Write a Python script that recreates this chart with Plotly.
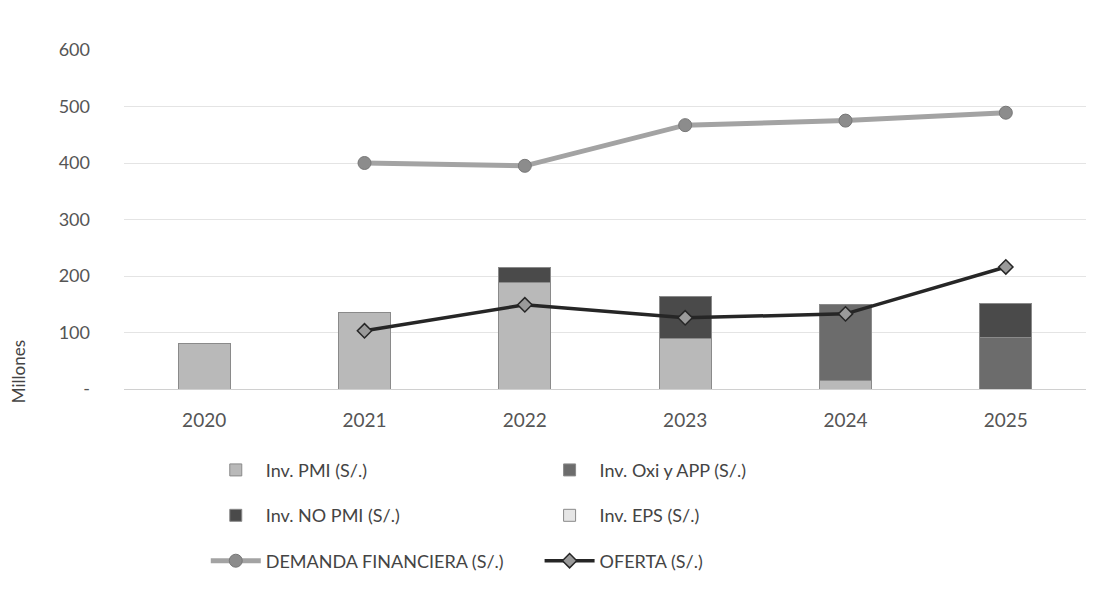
import plotly.graph_objects as go

years = ["2020", "2021", "2022", "2023", "2024", "2025"]
inv_pmi = [80, 135, 188, 90, 15, 0]
inv_oxi_app = [0, 0, 0, 0, 134, 92]
inv_no_pmi = [0, 0, 27, 73, 0, 60]
inv_eps = [0, 0, 0, 0, 0, 0]
demanda = [None, 400, 395, 467, 475, 489]
oferta = [None, 103, 149, 126, 133, 216]

y_tickvals = [0, 100, 200, 300, 400, 500, 600]
y_ticktext = ["-", "100", "200", "300", "400", "500", "600"]

FONT = "Lato"
TXT = "#555555"

fig = go.Figure()

bar_line = dict(color="#8a8a8a", width=1)
fig.add_trace(go.Bar(x=years, y=inv_pmi, name="Inv. PMI (S/.)",
                     marker=dict(color="#b9b9b9", line=bar_line),
                     legend="legend", legendgroup="a"))
fig.add_trace(go.Bar(x=years, y=inv_oxi_app, name="Inv. Oxi y APP (S/.)",
                     marker=dict(color="#6c6c6c", line=bar_line),
                     legend="legend2", legendgroup="b"))
fig.add_trace(go.Bar(x=years, y=inv_no_pmi, name="Inv. NO PMI (S/.)",
                     marker=dict(color="#4a4a4a", line=bar_line),
                     legend="legend", legendgroup="c"))
fig.add_trace(go.Bar(x=years, y=inv_eps, name="Inv. EPS (S/.)",
                     marker=dict(color="#e6e6e6", line=bar_line),
                     legend="legend2", legendgroup="d"))

fig.add_trace(go.Scatter(x=years, y=demanda, name="DEMANDA FINANCIERA (S/.)",
                         mode="lines+markers",
                         line=dict(color="#a3a3a3", width=5),
                         marker=dict(symbol="circle", size=13, color="#8c8c8c",
                                     line=dict(color="#777777", width=1)),
                         legend="legend", legendgroup="e"))
fig.add_trace(go.Scatter(x=years, y=oferta, name="OFERTA (S/.)",
                         mode="lines+markers",
                         line=dict(color="#262626", width=3.5),
                         marker=dict(symbol="diamond", size=11, color="#9a9a9a",
                                     line=dict(color="#262626", width=1.5)),
                         legend="legend2", legendgroup="f"))

legend_common = dict(
    orientation="v", xanchor="left", yanchor="top", y=-0.185,
    font=dict(family=FONT, size=18, color="#444444"),
    bgcolor="rgba(0,0,0,0)", tracegroupgap=19, itemwidth=50,
    traceorder="grouped",
)

fig.update_layout(
    width=1107, height=590,
    paper_bgcolor="white", plot_bgcolor="white",
    margin=dict(l=116, r=29, t=42, b=209),
    barmode="stack", bargap=0.675,
    font=dict(family=FONT, size=19, color=TXT),
    legend=dict(x=0.085, **legend_common),
    legend2=dict(x=0.432, **legend_common),
    xaxis=dict(showgrid=False, showline=True, linecolor="#d0d0d0", linewidth=1,
               ticks="", ticklabelstandoff=14,
               tickfont=dict(family=FONT, size=19, color=TXT)),
    yaxis=dict(range=[0, 600], tickvals=y_tickvals, ticktext=y_ticktext,
               showgrid=True, gridcolor="#e4e4e4", gridwidth=1,
               zeroline=False, showline=False, ticklabelstandoff=33,
               tickfont=dict(family=FONT, size=18, color=TXT)),
    annotations=[dict(text="Millones", textangle=-90, xref="paper", yref="paper",
                      x=-0.11, y=0.05, xanchor="center", yanchor="middle",
                      showarrow=False,
                      font=dict(family=FONT, size=17, color="#444444"))],
)

fig.write_html("out.html")
